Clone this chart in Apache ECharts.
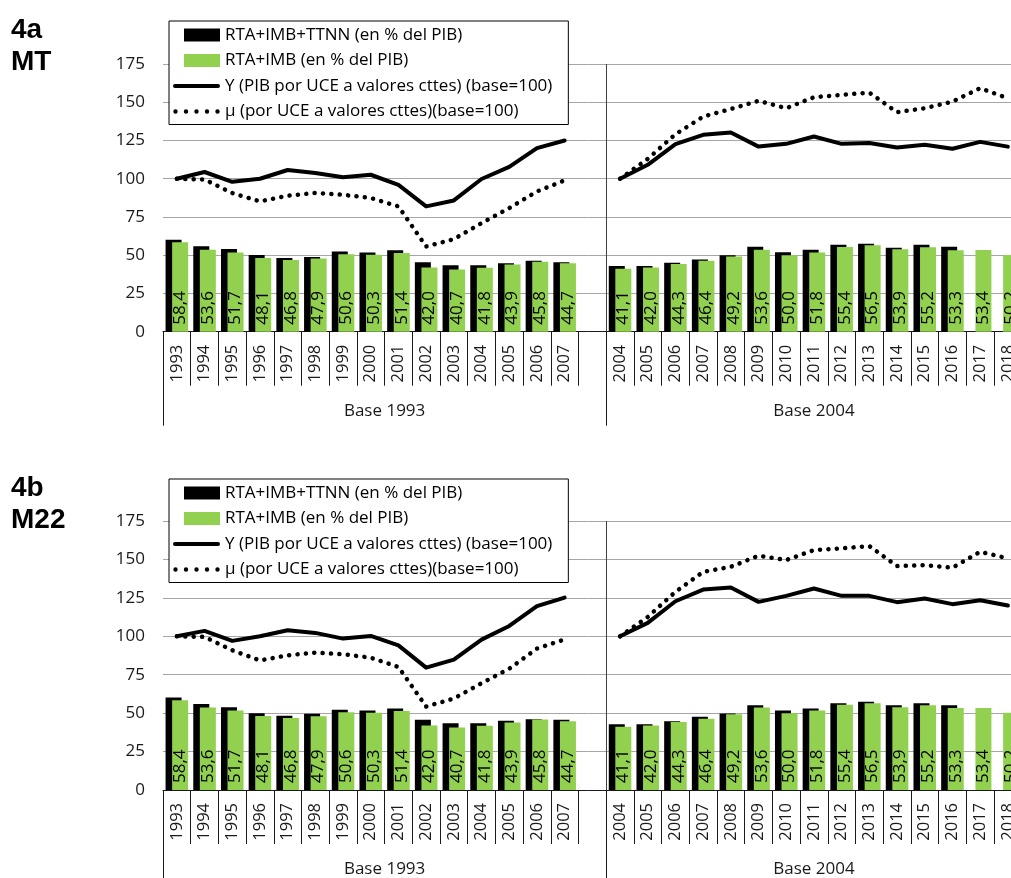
<!DOCTYPE html>
<html>
<head>
<meta charset="utf-8">
<script src="https://cdn.jsdelivr.net/npm/echarts@6/dist/echarts.min.js"></script>
<style>
  html, body { margin: 0; padding: 0; background: #ffffff; }
  #chart { width: 1011px; height: 878px; }
</style>
</head>
<body>
<div id="chart"></div>
<script>
// Categories: 1993-2007 series (base 1993), an empty spacer slot, then 2004-2018 (base 2004)
const categories = ['1993','1994','1995','1996','1997','1998','1999','2000','2001','2002','2003','2004','2005','2006','2007','',
                    '2004','2005','2006','2007','2008','2009','2010','2011','2012','2013','2014','2015','2016','2017','2018'];
const groupLabels = ['Base 1993', 'Base 2004'];
const seriesNames = ['RTA+IMB+TTNN (en % del PIB)', 'RTA+IMB (en % del PIB)',
                     'Y (PIB por UCE a valores cttes) (base=100)', 'μ (por UCE a valores cttes)(base=100)'];
const panelTitles = ['4a\nMT', '4b\nM22'];
const yTicks = { min: 0, max: 175, interval: 25 };

// Panel 4a — MT
const mtTotal = [60.1,55.9,54.0,50.2,48.1,48.9,52.4,51.8,53.3,45.4,43.5,43.5,44.8,46.3,45.4,null,
                 43.0,43.0,45.0,47.2,50.0,55.5,52.0,53.5,56.8,57.5,54.8,56.8,55.5,null,null];
const mtRtaImb = [58.4,53.6,51.7,48.1,46.8,47.9,50.6,50.3,51.4,42.0,40.7,41.8,43.9,45.8,44.7,null,
                  41.1,42.0,44.3,46.4,49.2,53.6,50.0,51.8,55.4,56.5,53.9,55.2,53.3,53.4,50.2];
const mtY = [100,104.4,98.0,100.0,105.7,103.7,101.0,102.6,96.0,81.9,85.8,99.8,107.7,120.0,125.0,null,
             100,109.1,122.6,128.7,130.2,121.0,122.8,127.6,122.8,123.3,120.4,122.2,119.6,124.1,121.0];
const mtMu = [100,99.5,90.6,85.2,88.9,90.7,89.5,87.4,81.9,55.7,60.5,71.0,80.8,91.7,98.9,null,
              100,113.0,129.1,140.6,145.6,150.9,146.1,153.3,154.8,156.3,143.5,146.1,150.4,159.2,152.6];

// Panel 4b — M22
const m22Total = [60.2,55.9,53.9,50.0,48.3,49.6,52.2,51.7,53.0,45.7,43.5,43.5,45.0,46.1,45.7,null,
                  42.8,42.8,44.8,47.6,49.8,55.2,51.7,53.0,56.5,57.4,55.2,56.5,55.2,null,null];
const m22RtaImb = [58.4,53.6,51.7,48.1,46.8,47.9,50.6,50.3,51.4,42.0,40.7,41.8,43.9,45.8,44.7,null,
                   41.1,42.0,44.3,46.4,49.2,53.6,50.0,51.8,55.4,56.5,53.9,55.2,53.3,53.4,50.2];
const m22Y = [100,103.5,97.0,100.0,103.9,102.2,98.5,100.2,94.1,79.6,84.8,97.8,106.7,119.6,125.2,null,
              100,108.7,122.8,130.4,131.7,122.4,126.3,131.1,126.3,126.3,122.2,124.6,120.9,123.5,120.0];
const m22Mu = [100,99.6,90.9,84.3,87.6,89.4,88.3,86.1,80.0,54.3,59.5,69.5,78.9,92.0,98.0,null,
               100,112.6,128.9,141.9,145.2,152.4,149.6,156.1,157.2,158.7,145.7,146.3,144.6,155.0,150.7];

const panels = [
  { title: panelTitles[0], total: mtTotal, rtaImb: mtRtaImb, y: mtY, mu: mtMu },
  { title: panelTitles[1], total: m22Total, rtaImb: m22RtaImb, y: m22Y, mu: m22Mu }
];

const FONT = "'Open Sans', sans-serif";
const TEXT = '#1a1a1a';
const GREEN = '#92d050';

// layout of each panel
const plotLeft = 163;
const bandW = 27.7;
const plotWidth = bandW * categories.length;   // runs past the right edge of the page
const layout = [
  { top: 64, height: 267.7, legendTop: 21, titleTop: 9, titleLH: 32 },
  { top: 521, height: 269, legendTop: 479, titleTop: 467, titleLH: 32 }
];

// legend swatches (47 x 13 box; the leading/trailing moves pin the box size)
const ICON_W = 47, ICON_H = 13;
const iconBar = 'path://M0,0M11,0H47V13H11ZM47,13';
const iconSolid = 'path://M0,0M1,4.5H46A2,2 0 0 1 46,8.5H1A2,2 0 0 1 1,4.5ZM47,13';
const iconDots = 'path://M0,0' + [2.5, 13, 23.5, 34, 44.5].map(c =>
  'M' + (c - 2.2) + ',6.5a2.2,2.2 0 1,0 4.4,0a2.2,2.2 0 1,0 -4.4,0Z').join('') + 'M47,13';

// group axis: one label under the middle of each block
const leftGroupIdx = 7, rightGroupIdx = 23, splitIdx = 16;
const groupAxisData = categories.map((c, i) =>
  i === leftGroupIdx ? groupLabels[0] : (i === rightGroupIdx ? groupLabels[1] : ''));

const fmtComma = v => v.toFixed(1).replace('.', ',');

const option = {
  backgroundColor: '#ffffff',
  animation: false,
  title: [], legend: [], grid: [], xAxis: [], yAxis: [], series: []
};

panels.forEach((p, k) => {
  const L = layout[k];
  option.title.push({
    text: p.title, left: 6, top: L.titleTop,
    textStyle: { fontFamily: "'Liberation Sans', Arial, sans-serif", fontWeight: 'bold',
                 fontSize: 28, lineHeight: L.titleLH, color: '#000' }
  });
  option.legend.push({
    orient: 'vertical', left: 169, top: L.legendTop,
    padding: [4, 16, 3, 4], itemGap: 5.5, itemWidth: ICON_W, itemHeight: ICON_H,
    backgroundColor: '#ffffff', borderColor: '#000000', borderWidth: 1,
    selectedMode: false,
    textStyle: { fontFamily: FONT, fontSize: 17, lineHeight: 20, color: '#000' },
    data: [
      { name: seriesNames[0], icon: iconBar },
      { name: seriesNames[1], icon: iconBar },
      { name: seriesNames[2], icon: iconSolid },
      { name: seriesNames[3], icon: iconDots }
    ]
  });
  option.grid.push({
    left: plotLeft, top: L.top, width: plotWidth, height: L.height,
    containLabel: false, outerBoundsMode: 'none'
  });
  // year axis
  option.xAxis.push({
    gridIndex: k, type: 'category', data: categories, boundaryGap: true,
    axisLine: { show: true, lineStyle: { color: TEXT, width: 1 } },
    axisTick: { show: true, length: 54, lineStyle: { color: TEXT, width: 1 } },
    axisLabel: { interval: 0, rotate: 90, margin: 13, fontFamily: FONT, fontSize: 16.5, color: TEXT },
    splitLine: { show: false }
  });
  // block axis: long separators + block names
  option.xAxis.push({
    gridIndex: k, type: 'category', data: groupAxisData, boundaryGap: true, position: 'bottom',
    axisLine: { show: false },
    axisTick: { show: true, length: 94, interval: i => i === 0 || i === splitIdx,
                lineStyle: { color: TEXT, width: 1 } },
    splitLine: { show: true, interval: i => i === 0 || i === splitIdx,
                 lineStyle: { color: ['rgba(0,0,0,0)', '#404040', 'rgba(0,0,0,0)'], width: 1 } },
    axisLabel: {
      interval: i => i === leftGroupIdx || i === rightGroupIdx,
      margin: 71, fontFamily: FONT, fontSize: 17, color: TEXT,
      formatter: (v, i) => i === leftGroupIdx ? '{s|' + v + '}' : v,
      rich: { s: { fontFamily: FONT, fontSize: 17, color: TEXT, padding: [0, 0, 0, bandW] } }
    }
  });
  option.yAxis.push({
    gridIndex: k, type: 'value', min: yTicks.min, max: yTicks.max, interval: yTicks.interval,
    axisLine: { show: false }, axisTick: { show: false },
    axisLabel: { margin: 18, fontFamily: FONT, fontSize: 17, color: TEXT },
    splitLine: { show: true, lineStyle: { color: '#a6a6a6', width: 1 } }
  });
  option.series.push(
    {
      name: seriesNames[0], type: 'bar', xAxisIndex: 2 * k, yAxisIndex: k,
      data: p.total, barWidth: 16, barGap: '-59%',
      itemStyle: { color: '#000000' }
    },
    {
      name: seriesNames[1], type: 'bar', xAxisIndex: 2 * k, yAxisIndex: k,
      data: p.rtaImb, barWidth: 16, barGap: '-59%',
      itemStyle: { color: GREEN },
      label: {
        show: true, position: 'insideBottom', distance: 7, rotate: 90,
        align: 'left', verticalAlign: 'middle',
        fontFamily: FONT, fontSize: 17, color: '#000',
        formatter: prm => fmtComma(prm.value)
      }
    },
    {
      name: seriesNames[2], type: 'line', xAxisIndex: 2 * k, yAxisIndex: k,
      data: p.y, symbol: 'none', connectNulls: false,
      lineStyle: { color: '#000', width: 4, join: 'round', cap: 'round' },
      itemStyle: { color: '#000' }
    },
    {
      name: seriesNames[3], type: 'line', xAxisIndex: 2 * k, yAxisIndex: k,
      data: p.mu, symbol: 'none', connectNulls: false,
      lineStyle: { color: '#000', width: 4.5, type: [0.1, 8.3], cap: 'round', join: 'round' },
      itemStyle: { color: '#000' }
    }
  );
});

const chart = echarts.init(document.getElementById('chart'), null, { renderer: 'canvas' });
chart.setOption(option);
</script>
</body>
</html>
